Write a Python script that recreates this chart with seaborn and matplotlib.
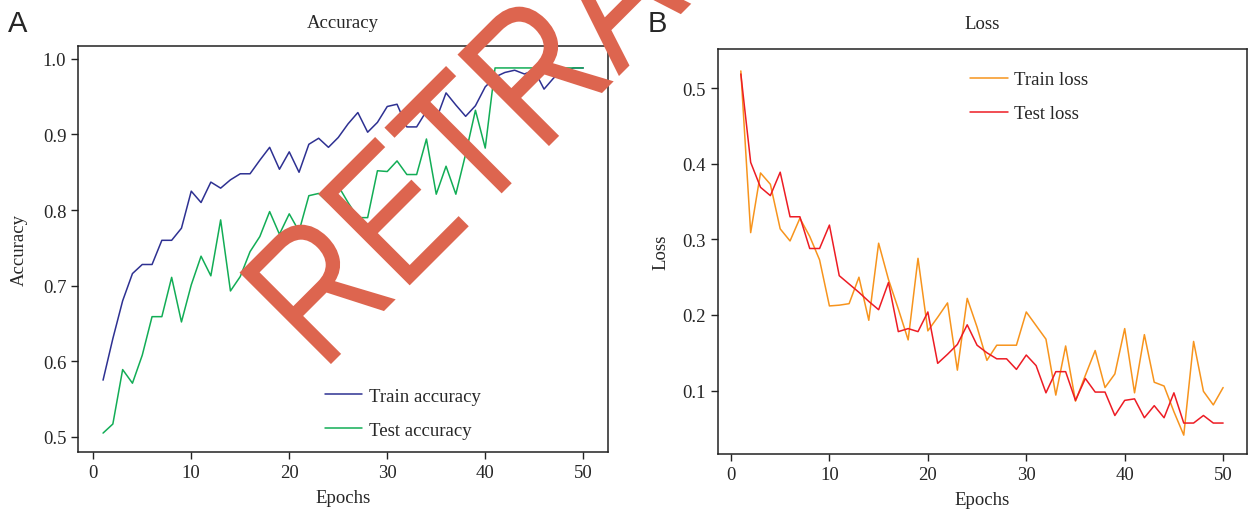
import matplotlib
matplotlib.use("Agg")
import matplotlib.pyplot as plt
import seaborn as sns
import numpy as np
import pandas as pd
from matplotlib.textpath import TextPath
from matplotlib.patches import PathPatch
from matplotlib.font_manager import FontProperties
from matplotlib.transforms import Affine2D, IdentityTransform

epochs = list(range(1, 51))

train_acc = [0.575, 0.630, 0.680, 0.716, 0.728, 0.728, 0.760, 0.760, 0.776, 0.825,
             0.810, 0.837, 0.829, 0.840, 0.848, 0.848, 0.866, 0.883, 0.854, 0.877,
             0.850, 0.887, 0.895, 0.883, 0.896, 0.914, 0.929, 0.903, 0.916, 0.937,
             0.940, 0.910, 0.910, 0.931, 0.920, 0.955, 0.939, 0.924, 0.938, 0.963,
             0.976, 0.982, 0.985, 0.980, 0.985, 0.960, 0.975, 0.982, 0.988, 0.988]
test_acc = [0.505, 0.517, 0.589, 0.571, 0.608, 0.659, 0.659, 0.711, 0.652, 0.701,
            0.739, 0.713, 0.787, 0.693, 0.712, 0.745, 0.765, 0.798, 0.768, 0.795,
            0.772, 0.819, 0.822, 0.810, 0.832, 0.810, 0.790, 0.790, 0.852, 0.851,
            0.865, 0.847, 0.847, 0.894, 0.821, 0.858, 0.821, 0.874, 0.932, 0.882,
            0.988, 0.988, 0.988, 0.988, 0.988, 0.988, 0.988, 0.988, 0.988, 0.988]

train_loss = [0.523, 0.309, 0.388, 0.373, 0.314, 0.298, 0.328, 0.304, 0.273, 0.212,
              0.213, 0.215, 0.250, 0.193, 0.295, 0.247, 0.208, 0.167, 0.275, 0.179,
              0.197, 0.216, 0.127, 0.222, 0.184, 0.140, 0.160, 0.160, 0.160, 0.204,
              0.186, 0.168, 0.094, 0.159, 0.086, 0.120, 0.153, 0.104, 0.122, 0.182,
              0.097, 0.174, 0.111, 0.106, 0.072, 0.041, 0.165, 0.099, 0.081, 0.104]
test_loss = [0.519, 0.402, 0.369, 0.358, 0.389, 0.330, 0.330, 0.288, 0.288, 0.319,
             0.252, 0.241, 0.230, 0.218, 0.207, 0.243, 0.178, 0.182, 0.178, 0.204,
             0.136, 0.148, 0.161, 0.187, 0.160, 0.150, 0.142, 0.142, 0.128, 0.147,
             0.133, 0.097, 0.125, 0.125, 0.087, 0.116, 0.098, 0.098, 0.067, 0.087,
             0.089, 0.064, 0.080, 0.064, 0.097, 0.057, 0.057, 0.067, 0.057, 0.057]

sns.set_style("ticks")
plt.rcParams['font.family'] = ['Liberation Serif', 'DejaVu Serif']
plt.rcParams['font.size'] = 13.5
plt.rcParams['xtick.direction'] = 'out'
plt.rcParams['ytick.direction'] = 'out'

fig = plt.figure(figsize=(12.51, 5.10), dpi=100)
ax1 = fig.add_axes([0.0624, 0.1118, 0.4234, 0.796])
ax2 = fig.add_axes([0.5737, 0.1078, 0.4229, 0.7941])

leg_kw = dict(frameon=False, handlelength=2.0, handletextpad=0.35,
              labelspacing=0.9, fontsize=13.5)

# accuracy panel
sns.lineplot(x=epochs, y=train_acc, ax=ax1, color='#2E3192', lw=1.1, label='Train accuracy')
sns.lineplot(x=epochs, y=test_acc, ax=ax1, color='#12AD56', lw=1.1, label='Test accuracy')
ax1.set_xlim(-1.55, 52.5)
ax1.set_ylim(0.480, 1.017)
ax1.set_xticks([0, 10, 20, 30, 40, 50])
ax1.set_yticks([0.5, 0.6, 0.7, 0.8, 0.9, 1.0])
ax1.set_title('Accuracy', fontsize=13.5, pad=14)
ax1.set_xlabel('Epochs', labelpad=6)
ax1.set_ylabel('Accuracy', labelpad=11)
ax1.legend(loc='center left', bbox_to_anchor=(0.434, 0.096), **leg_kw)

# loss panel
sns.lineplot(x=epochs, y=train_loss, ax=ax2, color='#F7941D', lw=1.1, label='Train loss')
sns.lineplot(x=epochs, y=test_loss, ax=ax2, color='#ED1C24', lw=1.1, label='Test loss')
ax2.set_xlim(-1.35, 52.4)
ax2.set_ylim(0.016, 0.552)
ax2.set_xticks([0, 10, 20, 30, 40, 50])
ax2.set_yticks([0.1, 0.2, 0.3, 0.4, 0.5])
ax2.set_title('Loss', fontsize=13.5, pad=15)
ax2.set_xlabel('Epochs', labelpad=6)
ax2.set_ylabel('Loss', labelpad=9)
ax2.legend(loc='center left', bbox_to_anchor=(0.445, 0.882), **leg_kw)

for ax in (ax1, ax2):
    for sp in ax.spines.values():
        sp.set_color('#222222')
        sp.set_linewidth(1.1)
    ax.tick_params(length=5, width=1, labelsize=13.5, color='#222222')

fig.text(0.006, 0.952, 'A', fontsize=21, family=['Liberation Sans', 'DejaVu Sans'], va='center')
fig.text(0.518, 0.952, 'B', fontsize=21, family=['Liberation Sans', 'DejaVu Sans'], va='center')

# retraction stamp across the figure
tp = TextPath((0, 0), 'RETRACTED', size=1, prop=FontProperties(family='Liberation Sans'))
stamp_tr = Affine2D().scale(188 * 0.82, 188).rotate_deg(45).translate(322, 136)
stamp = PathPatch(tp, facecolor='#DD654F', edgecolor='none',
                  transform=stamp_tr + IdentityTransform(), zorder=10)
fig.patches.append(stamp)

fig.savefig('out.png', dpi=100)
